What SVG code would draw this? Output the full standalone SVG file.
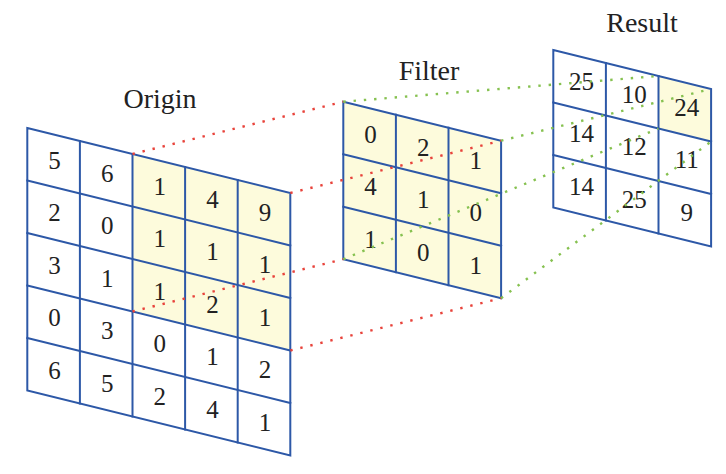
<svg xmlns="http://www.w3.org/2000/svg" width="726" height="474" viewBox="0 0 726 474">
<style>
.bg{fill:#ffffff}
.hl{fill:#fdfbdc;stroke:none}
.grid{fill:none;stroke:#2d58a7;stroke-width:2;stroke-linecap:square}
.num{font-size:25px;fill:#222222;text-anchor:middle}
.label{font-size:28px;fill:#222222;text-anchor:middle}
.red{stroke:#e8433b;stroke-width:2.4;stroke-dasharray:2.4 7.9;fill:none}
.green{stroke:#86c150;stroke-width:2.4;stroke-dasharray:2.4 7.9;fill:none}
</style>
<rect class="bg" x="0" y="0" width="726" height="474"/>

<g font-family="Liberation Serif, Times New Roman, Times, Noto Serif, DejaVu Serif, serif">
<g id="origin">
<polygon class="hl" points="132.5,154 290.3,193 290.3,350.5 132.5,311.5"/>
<g class="grid">
<polygon points="27.3,128 290.3,193 290.3,455.5 27.3,390.5"/>
<line x1="27.3" y1="180.5" x2="290.3" y2="245.5"/>
<line x1="27.3" y1="233" x2="290.3" y2="298"/>
<line x1="27.3" y1="285.5" x2="290.3" y2="350.5"/>
<line x1="27.3" y1="338" x2="290.3" y2="403"/>
<line x1="79.9" y1="141" x2="79.9" y2="403.5"/>
<line x1="132.5" y1="154" x2="132.5" y2="416.5"/>
<line x1="185.1" y1="167" x2="185.1" y2="429.5"/>
<line x1="237.7" y1="180" x2="237.7" y2="442.5"/>
</g>
<text class="label" x="160" y="108">Origin</text>
<g class="num">
<text x="54.6" y="168.8">5</text>
<text x="54.6" y="221.3">2</text>
<text x="54.6" y="273.8">3</text>
<text x="54.6" y="326.3">0</text>
<text x="54.6" y="378.8">6</text>
<text x="107.2" y="181.8">6</text>
<text x="107.2" y="234.3">0</text>
<text x="107.2" y="286.8">1</text>
<text x="107.2" y="339.3">3</text>
<text x="107.2" y="391.8">5</text>
<text x="159.8" y="194.8">1</text>
<text x="159.8" y="247.3">1</text>
<text x="159.8" y="299.8">1</text>
<text x="159.8" y="352.3">0</text>
<text x="159.8" y="404.8">2</text>
<text x="212.4" y="207.8">4</text>
<text x="212.4" y="260.3">1</text>
<text x="212.4" y="312.8">2</text>
<text x="212.4" y="365.3">1</text>
<text x="212.4" y="417.8">4</text>
<text x="265" y="220.8">9</text>
<text x="265" y="273.3">1</text>
<text x="265" y="325.8">1</text>
<text x="265" y="378.3">2</text>
<text x="265" y="430.8">1</text>
</g>
</g>

<g id="filter">
<polygon class="hl" points="343.3,101.7 501.1,140.7 501.1,298.2 343.3,259.2"/>
<g class="grid">
<polygon points="343.3,101.7 501.1,140.7 501.1,298.2 343.3,259.2"/>
<line x1="343.3" y1="154.2" x2="501.1" y2="193.2"/>
<line x1="343.3" y1="206.7" x2="501.1" y2="245.7"/>
<line x1="395.9" y1="114.7" x2="395.9" y2="272.2"/>
<line x1="448.5" y1="127.7" x2="448.5" y2="285.2"/>
</g>
<text class="label" x="429" y="80">Filter</text>
<g class="num">
<text x="370.6" y="142.5">0</text>
<text x="370.6" y="195">4</text>
<text x="370.6" y="247.5">1</text>
<text x="423.2" y="155.5">2</text>
<text x="423.2" y="208">1</text>
<text x="423.2" y="260.5">0</text>
<text x="475.8" y="168.5">1</text>
<text x="475.8" y="221">0</text>
<text x="475.8" y="273.5">1</text>
</g>
</g>

<g id="result">
<polygon class="hl" points="658.5,76 711.1,89 711.1,141.5 658.5,128.5"/>
<g class="grid">
<polygon points="553.3,50 711.1,89 711.1,246.5 553.3,207.5"/>
<line x1="553.3" y1="102.5" x2="711.1" y2="141.5"/>
<line x1="553.3" y1="155" x2="711.1" y2="194"/>
<line x1="605.9" y1="63" x2="605.9" y2="220.5"/>
<line x1="658.5" y1="76" x2="658.5" y2="233.5"/>
</g>
<text class="label" x="642" y="32">Result</text>
<g class="num">
<text x="581.6" y="89.8">25</text>
<text x="581.6" y="142.3">14</text>
<text x="581.6" y="194.8">14</text>
<text x="634.2" y="102.8">10</text>
<text x="634.2" y="155.3">12</text>
<text x="634.2" y="207.8">25</text>
<text x="686.8" y="115.8">24</text>
<text x="686.8" y="168.3">11</text>
<text x="686.8" y="220.8">9</text>
</g>
</g>
</g>

<g id="connectors">
<line class="red" x1="132.5" y1="154" x2="343.3" y2="101.7"/>
<line class="red" x1="290.3" y1="193" x2="501.1" y2="140.7"/>
<line class="red" x1="132.5" y1="311.5" x2="343.3" y2="259.2"/>
<line class="red" x1="290.3" y1="350.5" x2="501.1" y2="298.2"/>
<line class="green" x1="343.3" y1="101.7" x2="658.5" y2="76"/>
<line class="green" x1="501.1" y1="140.7" x2="711.1" y2="89"/>
<line class="green" x1="343.3" y1="259.2" x2="658.5" y2="128.5"/>
<line class="green" x1="501.1" y1="298.2" x2="711.1" y2="141.5"/>
</g>
</svg>
